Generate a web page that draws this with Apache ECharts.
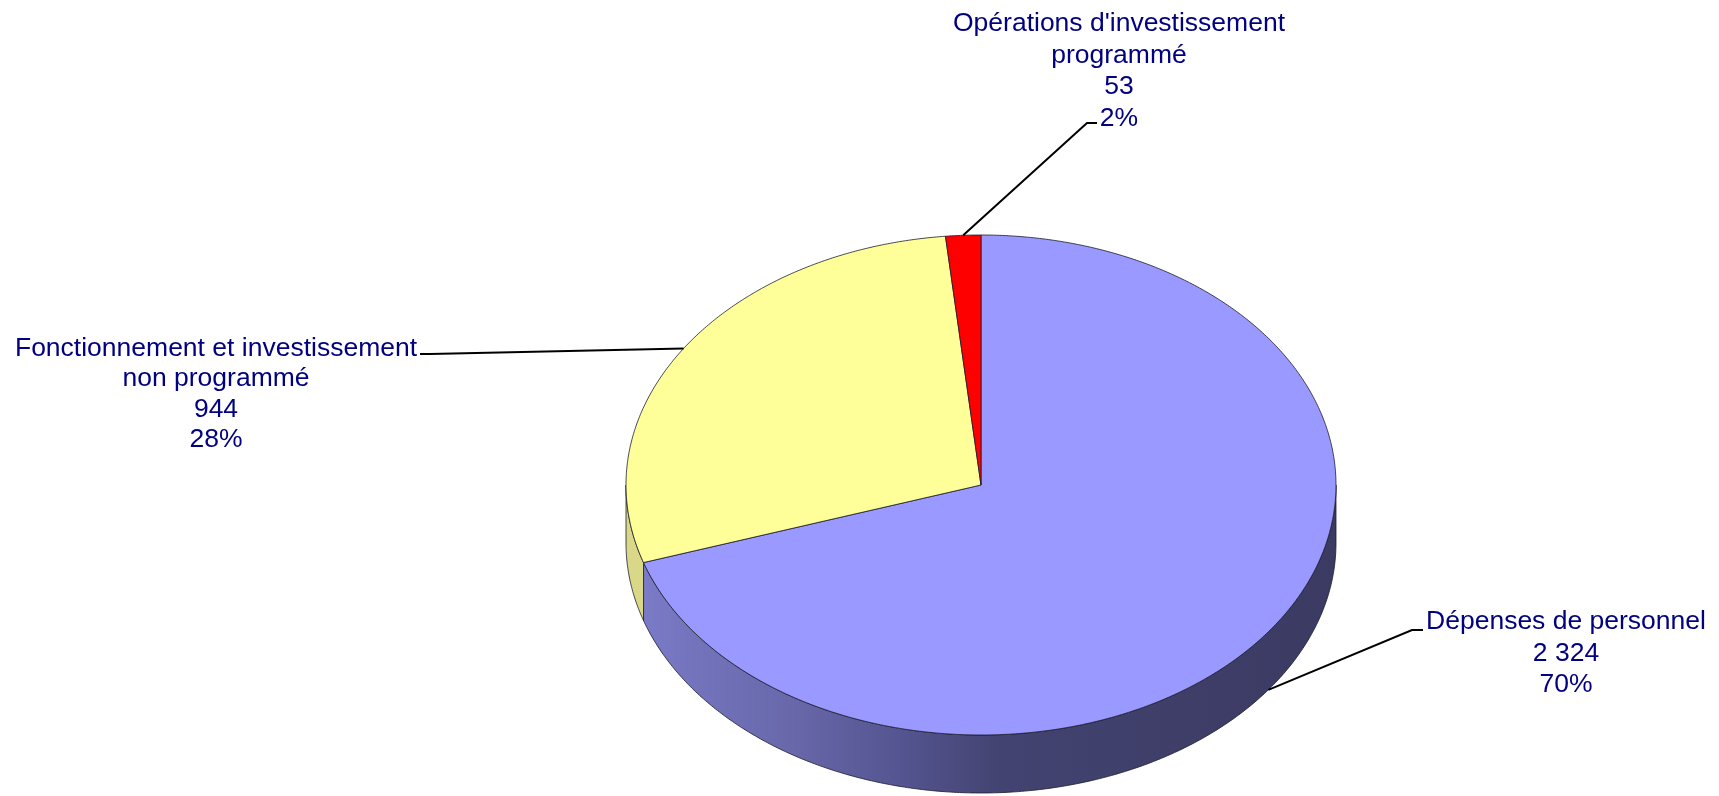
<!DOCTYPE html>
<html>
<head>
<meta charset="utf-8">
<script src="https://cdn.jsdelivr.net/npm/echarts@6/dist/echarts.min.js"></script>
<style>
  html, body { margin: 0; padding: 0; background: #fff; }
  #chart { width: 1719px; height: 796px; }
</style>
</head>
<body>
<div id="chart"></div>
<script>
// data
const sliceNames = ['Dépenses de personnel', 'Fonctionnement et investissement\nnon programmé', "Opérations d'investissement\nprogrammé"];
const sliceValues = [2324, 944, 53];
const topColors = ['#9999ff', '#ffff99', '#ff0000'];
const sideColors = [null, '#d8d888', '#b00000'];

// layout of the pseudo-3D pie and of the labels
const pie = { cx: 981, cy: 485, rx: 355, ry: 250, depth: 58 };
const labelLayout = [
    { elbow: [1412, 630], end: [1423, 630], textX: 1566, textTop: 606, lineHeight: 31.5, side: true },
    { elbow: [430, 354], end: [420, 354], textX: 216, textTop: 333, lineHeight: 30.5, side: false },
    { elbow: [1087, 123], end: [1097, 123], textX: 1119, textTop: 8, lineHeight: 31.5, side: false }
];

const total = sliceValues.reduce((a, b) => a + b, 0);
const starts = [];
let acc = 0;
sliceValues.forEach(v => { starts.push(acc / total * 360); acc += v; });

function pt(deg, dy) {
    const r = deg * Math.PI / 180;
    return [pie.cx + pie.rx * Math.sin(r), pie.cy - pie.ry * Math.cos(r) + (dy || 0)];
}

function arc(a, b, dy) {
    const pts = [];
    const n = Math.max(2, Math.ceil(Math.abs(b - a) / 0.5));
    for (let i = 0; i <= n; i++) pts.push(pt(a + (b - a) * i / n, dy));
    return pts;
}

function fmt(v) {
    return String(v).replace(/\B(?=(\d{3})+(?!\d))/g, ' ');
}

const blueSide = {
    type: 'linear', x: pie.cx - pie.rx, y: 0, x2: pie.cx + pie.rx, y2: 0, global: true,
    colorStops: [
        { offset: 0, color: '#7c7cca' },
        { offset: 0.24, color: '#6767a9' },
        { offset: 0.39, color: '#545490' },
        { offset: 0.53, color: '#434371' },
        { offset: 1, color: '#3a3a62' }
    ]
};

function renderItem(params, api) {
    const i = params.dataIndex;
    const v = api.value(0);
    const a = starts[i];
    const b = a + v / total * 360;
    const children = [];

    // visible front wall (90..270 deg clockwise from top)
    const s0 = Math.max(a, 90), s1 = Math.min(b, 270);
    if (s1 > s0) {
        const pts = arc(s0, s1, 0).concat(arc(s1, s0, pie.depth));
        children.push({
            type: 'polygon',
            shape: { points: pts },
            style: { fill: i === 0 ? blueSide : sideColors[i], stroke: '#1c1c2c', lineWidth: 0.8 }
        });
    }

    // top face
    children.push({
        type: 'polygon',
        shape: { points: [[pie.cx, pie.cy]].concat(arc(a, b, 0)) },
        style: { fill: topColors[i], stroke: '#1c1c2c', lineWidth: 0.8 }
    });

    // leader line + label
    const lay = labelLayout[i];
    const mid = (a + b) / 2;
    const start = pt(mid, lay.side ? pie.depth : 0);
    children.push({
        type: 'polyline',
        shape: { points: [start, lay.elbow, lay.end] },
        style: { stroke: '#000', lineWidth: 2, fill: null }
    });
    const pct = Math.round(v / total * 100);
    children.push({
        type: 'text',
        style: {
            text: sliceNames[i] + '\n' + fmt(v) + '\n' + pct + '%',
            x: lay.textX,
            y: lay.textTop,
            align: 'center',
            verticalAlign: 'top',
            fontSize: 26.5,
            fontFamily: '"Liberation Sans", Arial, sans-serif',
            lineHeight: lay.lineHeight,
            fill: '#000080'
        }
    });

    return { type: 'group', children: children };
}

const chart = echarts.init(document.getElementById('chart'));
chart.setOption({
    animation: false,
    backgroundColor: '#fff',
    series: [{
        type: 'custom',
        coordinateSystem: 'none',
        renderItem: renderItem,
        data: sliceValues.map(v => [v]),
        silent: true
    }]
});
</script>
</body>
</html>
